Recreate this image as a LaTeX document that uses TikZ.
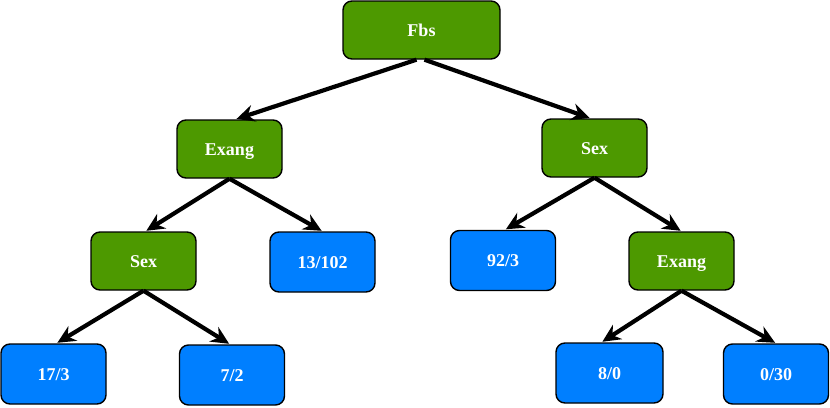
\documentclass[tikz,border=0pt]{standalone}
\usepackage{fontspec}
\setmainfont{Liberation Serif}
\usetikzlibrary{arrows.meta,calc}
\definecolor{gbox}{HTML}{4D9900}
\definecolor{bbox}{HTML}{007FFF}
\tikzset{
  treebox/.style={draw=black, line width=1.4pt, rounded corners=9pt, text=white,
    font=\fontsize{18}{21}\selectfont\bfseries, inner sep=0pt, text height=12pt, text depth=0pt,
    minimum width=105pt, minimum height=58pt},
  gnode/.style={treebox, fill=gbox},
  bnode/.style={treebox, fill=bbox, minimum height=60pt},
  link/.style={line width=4.2pt, -{Stealth[length=18pt,width=17pt,inset=6pt]}, shorten >=1pt},
}
\begin{document}
\begin{tikzpicture}[x=1pt,y=-1pt]
\useasboundingbox (0,0) rectangle (830,407);
\node[gnode, minimum width=157pt] (fbs) at (421.5,30) {Fbs};
\node[gnode] (exangL) at (229.5,149) {Exang};
\node[gnode] (sexR) at (594.5,148) {Sex};
\node[gnode] (sexL) at (143.5,261) {Sex};
\node[bnode] (n13) at (322.5,262) {13/102};
\node[bnode] (n92) at (503,260.5) {92/3};
\node[gnode] (exangR) at (681.5,261) {Exang};
\node[bnode] (n17) at (53.5,374) {17/3};
\node[bnode] (n7) at (232,375) {7/2};
\node[bnode, minimum width=107pt] (n8) at (609.5,373) {8/0};
\node[bnode] (n0) at (776,374) {0/30};

\draw[link] ($(fbs.south)+(-5,0)$) -- ($(exangL.north)+(6,0)$);
\draw[link] ($(fbs.south)+(3,0)$) -- ($(sexR.north)+(-4,0)$);
\draw[link] (exangL.south) -- ($(sexL.north)+(2,0)$);
\draw[link] (exangL.south) -- (n13.north);
\draw[link] (sexR.south) -- ($(n92.north)+(2,0)$);
\draw[link] (sexR.south) -- (exangR.north);
\draw[link] (sexL.south) -- ($(n17.north)+(3,0)$);
\draw[link] (sexL.south) -- ($(n7.north)+(-2,0)$);
\draw[link] (exangR.south) -- ($(n8.north)+(-8,0)$);
\draw[link] (exangR.south) -- (n0.north);
\end{tikzpicture}
\end{document}
